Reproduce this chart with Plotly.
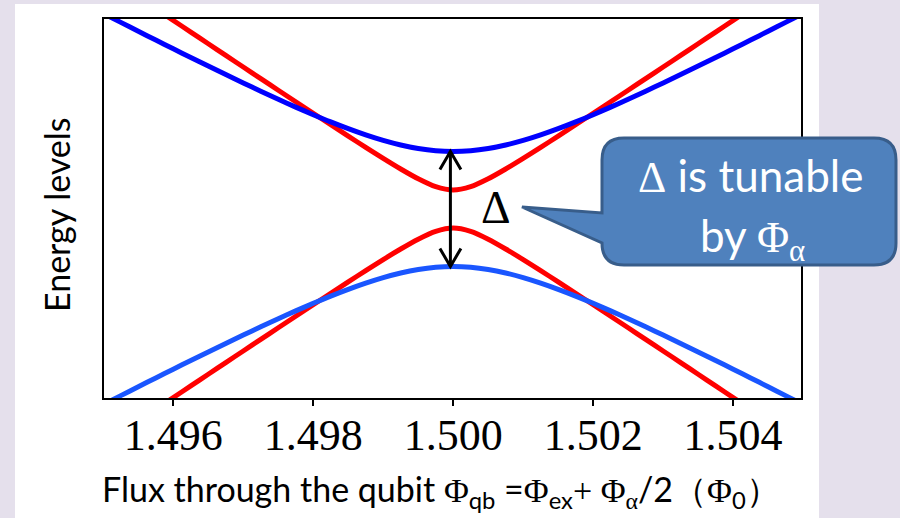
import plotly.graph_objects as go

# ---- data ----
flux = [1.49500, 1.49525, 1.49550, 1.49575, 1.49600, 1.49625, 1.49650, 1.49675,
        1.49700, 1.49725, 1.49750, 1.49775, 1.49800, 1.49825, 1.49850, 1.49875,
        1.49900, 1.49925, 1.49950, 1.49975, 1.50000, 1.50025, 1.50050, 1.50075,
        1.50100, 1.50125, 1.50150, 1.50175, 1.50200, 1.50225, 1.50250, 1.50275,
        1.50300, 1.50325, 1.50350, 1.50375, 1.50400, 1.50425, 1.50450, 1.50475,
        1.50500]

blue_upper = [1.9555, 1.8663, 1.7777, 1.6895, 1.6019, 1.5151, 1.4291, 1.3441,
              1.2602, 1.1778, 1.0972, 1.0188, 0.9432, 0.8709, 0.8031, 0.7409,
              0.6858, 0.6397, 0.6046, 0.5825, 0.5750, 0.5825, 0.6046, 0.6397,
              0.6858, 0.7409, 0.8031, 0.8709, 0.9432, 1.0188, 1.0972, 1.1778,
              1.2602, 1.3441, 1.4291, 1.5151, 1.6019, 1.6895, 1.7777, 1.8663,
              1.9555]
blue_lower = [-1.9555, -1.8663, -1.7777, -1.6895, -1.6019, -1.5151, -1.4291, -1.3441,
              -1.2602, -1.1778, -1.0972, -1.0188, -0.9432, -0.8709, -0.8031, -0.7409,
              -0.6858, -0.6397, -0.6046, -0.5825, -0.5750, -0.5825, -0.6046, -0.6397,
              -0.6858, -0.7409, -0.8031, -0.8709, -0.9432, -1.0188, -1.0972, -1.1778,
              -1.2602, -1.3441, -1.4291, -1.5151, -1.6019, -1.6895, -1.7777, -1.8663,
              -1.9555]
red_upper = [2.3527, 2.2358, 2.1190, 2.0023, 1.8856, 1.7690, 1.6525, 1.5360,
             1.4198, 1.3037, 1.1878, 1.0722, 0.9571, 0.8425, 0.7287, 0.6163,
             0.5060, 0.3998, 0.3018, 0.2233, 0.1900, 0.2233, 0.3018, 0.3998,
             0.5060, 0.6163, 0.7287, 0.8425, 0.9571, 1.0722, 1.1878, 1.3037,
             1.4198, 1.5360, 1.6525, 1.7690, 1.8856, 2.0023, 2.1190, 2.2358,
             2.3527]
red_lower = [-2.3527, -2.2358, -2.1190, -2.0023, -1.8856, -1.7690, -1.6525, -1.5360,
             -1.4198, -1.3037, -1.1878, -1.0722, -0.9571, -0.8425, -0.7287, -0.6163,
             -0.5060, -0.3998, -0.3018, -0.2233, -0.1900, -0.2233, -0.3018, -0.3998,
             -0.5060, -0.6163, -0.7287, -0.8425, -0.9571, -1.0722, -1.1878, -1.3037,
             -1.4198, -1.5360, -1.6525, -1.7690, -1.8856, -2.0023, -2.1190, -2.2358,
             -2.3527]

tick_vals = [1.496, 1.498, 1.500, 1.502, 1.504]
tick_text = ["1.496", "1.498", "1.500", "1.502", "1.504"]

# ---- layout geometry (pixels) ----
W, H = 900, 518
ML, MR, MT, MB = 104, 99, 19, 120
PW, PH = W - ML - MR, H - MT - MB


def px(x):
    return (x - ML) / PW


def py(y):
    return (H - MB - y) / PH


SERIF = "Liberation Serif"
SANS = "Lato"

fig = go.Figure()
for yv, col in [(red_upper, "#ff0000"), (red_lower, "#ff0000"),
                (blue_upper, "#0000ff"), (blue_lower, "#1a56ff")]:
    fig.add_trace(go.Scatter(x=flux, y=yv, mode="lines",
                             line=dict(color=col, width=5, shape="spline", smoothing=0.8),
                             showlegend=False))

shapes = []
# white panel
shapes.append(dict(type="rect", xref="paper", yref="paper", layer="below",
                   x0=px(15), x1=px(819), y0=py(H + 2), y1=py(4),
                   fillcolor="white", line=dict(width=0)))

# double arrow (Delta) between the blue branches at the centre
ci = flux.index(1.50000)
ax = 1.49996
ytop = blue_upper[ci]
ybot = blue_lower[ci]
hw = 0.000150
hh = 0.18
shapes.append(dict(type="line", xref="x", yref="y", x0=ax, x1=ax, y0=ytop, y1=ybot,
                   line=dict(color="black", width=3)))
shapes.append(dict(type="path", xref="x", yref="y",
                   path=f"M {ax-hw},{ytop-hh} L {ax},{ytop} L {ax+hw},{ytop-hh}",
                   line=dict(color="black", width=3)))
shapes.append(dict(type="path", xref="x", yref="y",
                   path=f"M {ax-hw},{ybot+hh} L {ax},{ybot} L {ax+hw},{ybot+hh}",
                   line=dict(color="black", width=3)))

# callout
L, R, T, B, r = 602, 896, 138, 265, 22
pts = [
    ("M", [(L + r, T)]),
    ("L", [(R - r, T)]),
    ("Q", [(R, T), (R, T + r)]),
    ("L", [(R, B - r)]),
    ("Q", [(R, B), (R - r, B)]),
    ("L", [(L + r, B)]),
    ("Q", [(L, B), (L, B - r)]),
    ("L", [(L, 243)]),
    ("L", [(522, 207)]),
    ("L", [(L, 213)]),
    ("L", [(L, T + r)]),
    ("Q", [(L, T), (L + r, T)]),
]
path = " ".join(cmd + " " + " ".join(f"{px(a):.5f},{py(b):.5f}" for a, b in c)
                for cmd, c in pts) + " Z"
shapes.append(dict(type="path", xref="paper", yref="paper", layer="above", path=path,
                   fillcolor="#4f81bd", line=dict(color="#385d8a", width=3)))

ann = []
ann.append(dict(x=px(750), y=py(176), xref="paper", yref="paper", showarrow=False,
                xanchor="center", yanchor="middle",
                text=f"<span style='font-family:{SERIF}'>Δ</span> is tunable",
                font=dict(family=SANS, size=44, color="white")))
ann.append(dict(x=px(752), y=py(238), xref="paper", yref="paper", showarrow=False,
                xanchor="center", yanchor="middle",
                text=f"by <span style='font-family:{SERIF}'>Φ<sub>α</sub></span>",
                font=dict(family=SANS, size=44, color="white")))
ann.append(dict(x=px(496), y=py(207), xref="paper", yref="paper", showarrow=False,
                xanchor="center", yanchor="middle", text="Δ",
                font=dict(family=SERIF, size=46, color="black")))
ann.append(dict(x=px(56), y=py(215), xref="paper", yref="paper", showarrow=False,
                xanchor="center", yanchor="middle", textangle=-90, text="Energy levels",
                font=dict(family=SANS, size=34, color="black")))
xt = ("Flux through the qubit "
      f"<span style='font-family:{SERIF}'>Φ</span><sub>qb</sub> ="
      f"<span style='font-family:{SERIF}'>Φ</span><sub>ex</sub>"
      f"<span style='font-family:{SERIF}'>+ Φ<sub>α</sub></span>/2（"
      f"<span style='font-family:{SERIF}'>Φ</span><sub>0</sub>）")
ann.append(dict(x=px(441), y=py(491), xref="paper", yref="paper", showarrow=False,
                xanchor="center", yanchor="middle", text=xt,
                font=dict(family=SANS, size=34, color="black")))

fig.update_layout(
    width=W, height=H,
    margin=dict(l=ML, r=MR, t=MT, b=MB, pad=0),
    paper_bgcolor="#e5e0ec",
    plot_bgcolor="white",
    shapes=shapes,
    annotations=ann,
    xaxis=dict(range=[1.49501, 1.50497], showgrid=False, zeroline=False,
               showline=True, mirror=True, linecolor="black", linewidth=2,
               ticks="outside", ticklen=6, tickwidth=2, tickcolor="black",
               tickvals=tick_vals, ticktext=tick_text, ticklabelstandoff=-9,
               tickfont=dict(family=SERIF, size=44, color="black")),
    yaxis=dict(range=[-1.89, 1.90], showgrid=False, zeroline=False,
               showline=True, mirror=True, linecolor="black", linewidth=2,
               showticklabels=False, ticks=""),
)

fig.write_html("out.html")
